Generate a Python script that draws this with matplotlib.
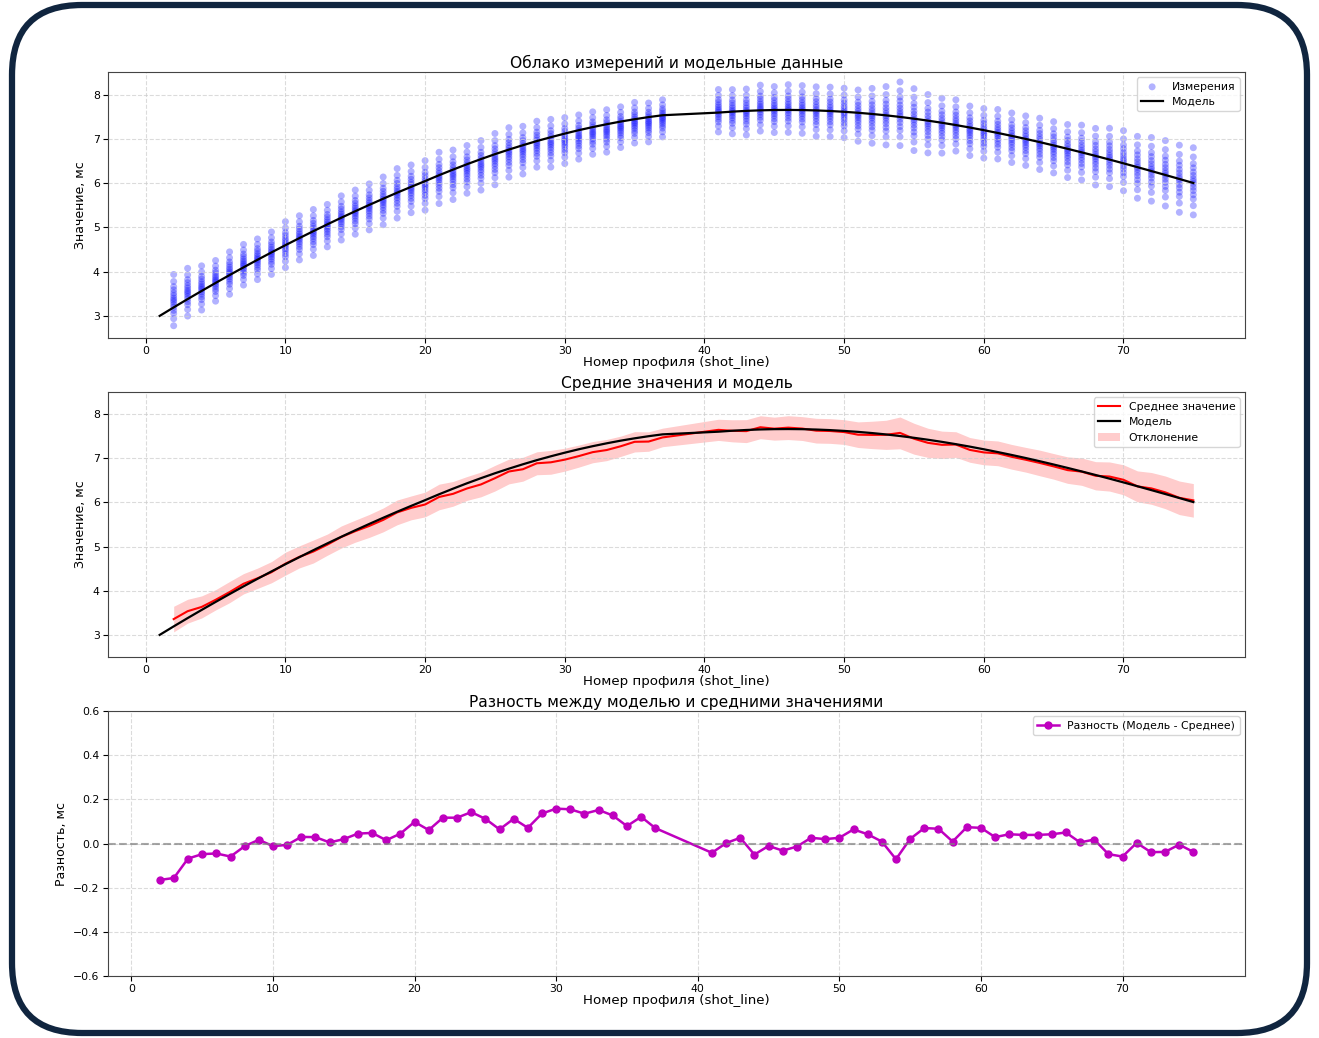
import matplotlib
matplotlib.use("Agg")
import matplotlib.pyplot as plt
from matplotlib.patches import FancyBboxPatch
import numpy as np

# ---------------- data ----------------
X_MODEL = list(range(1, 38)) + list(range(41, 76))
MODEL = [3.000, 3.192, 3.380, 3.564, 3.745, 3.923, 4.098, 4.269, 4.436, 4.600,
         4.760, 4.917, 5.071, 5.221, 5.368, 5.511, 5.651, 5.788, 5.920, 6.050,
         6.183, 6.310, 6.432, 6.548, 6.659, 6.763, 6.862, 6.956, 7.043, 7.125,
         7.202, 7.272, 7.337, 7.397, 7.450, 7.498, 7.540,
         7.600, 7.622, 7.639, 7.651, 7.658, 7.660, 7.657, 7.649, 7.636, 7.618,
         7.596, 7.569, 7.538, 7.502, 7.462, 7.418, 7.370, 7.318, 7.262, 7.202,
         7.139, 7.073, 7.004, 6.932, 6.857, 6.780, 6.701, 6.620, 6.537, 6.452,
         6.365, 6.277, 6.188, 6.098, 6.007]

X_MEAS = list(range(2, 38)) + list(range(41, 76))
# difference (model - mean)
DIFF = [-0.165, -0.156, -0.068, -0.048, -0.045, -0.059, -0.012, 0.017, -0.012, -0.006,
        0.030, 0.029, 0.005, 0.020, 0.045, 0.048, 0.015, 0.045, 0.098, 0.061,
        0.117, 0.117, 0.142, 0.112, 0.064, 0.112, 0.071, 0.136, 0.158, 0.155,
        0.135, 0.152, 0.127, 0.079, 0.121, 0.070,
        -0.042, 0.002, 0.026, -0.050, -0.011, -0.032, -0.014, 0.026, 0.020, 0.026,
        0.064, 0.042, 0.009, -0.071, 0.021, 0.070, 0.067, 0.009, 0.074, 0.071,
        0.029, 0.042, 0.039, 0.039, 0.042, 0.050, 0.005, 0.018, -0.048, -0.059,
        0.003, -0.039, -0.038, -0.005, -0.038]
# spread of measurements per profile (half-width of the band)
STD = [0.29, 0.27, 0.25, 0.23, 0.24, 0.23, 0.23, 0.24, 0.26, 0.25,
       0.26, 0.24, 0.25, 0.25, 0.26, 0.27, 0.28, 0.27, 0.28, 0.29,
       0.28, 0.27, 0.28, 0.29, 0.28, 0.27, 0.26, 0.27, 0.26, 0.25,
       0.24, 0.24, 0.23, 0.23, 0.22, 0.21,
       0.24, 0.25, 0.26, 0.26, 0.26, 0.27, 0.27, 0.28, 0.28, 0.28,
       0.29, 0.31, 0.33, 0.36, 0.35, 0.33, 0.31, 0.29, 0.28, 0.28,
       0.28, 0.28, 0.28, 0.29, 0.29, 0.30, 0.31, 0.32, 0.33, 0.34,
       0.35, 0.36, 0.37, 0.38, 0.38]
# typical standardized positions of the measurements within one profile column
OFFSETS = [-2.0, -1.45, -1.05, -0.8, -0.55, -0.35, -0.15, 0.0,
           0.15, 0.35, 0.55, 0.8, 1.05, 1.45, 2.0]

model_map = dict(zip(X_MODEL, MODEL))
x_meas = np.array(X_MEAS)
diff = np.array(DIFF)
std = np.array(STD)
mean = np.array([model_map[x] for x in X_MEAS]) - diff

sc_x = np.repeat(x_meas, len(OFFSETS))
sc_y = (mean[:, None] + std[:, None] * np.array(OFFSETS)[None, :]).ravel()

# ---------------- figure ----------------
fig = plt.figure(figsize=(13.19, 10.38), dpi=100)
bg = fig.add_axes([0, 0, 1, 1], zorder=-10)
bg.set_xlim(0, 1319)
bg.set_ylim(0, 1038)
bg.axis("off")
bg.add_patch(FancyBboxPatch((12, 5), 1295, 1028,
                            boxstyle="round,pad=0,rounding_size=70",
                            facecolor="white", edgecolor="#10253f", linewidth=4.5))

L, W = 0.0819, 0.862
ax1 = fig.add_axes([L, 0.6744, W, 0.2563])
ax2 = fig.add_axes([L, 0.3671, W, 0.2553])
ax3 = fig.add_axes([L, 0.0597, W, 0.2553])

TITLE_FS = 11.2
LABEL_FS = 9.6
TICK_FS = 7.8
LEG_FS = 7.8

for ax in (ax1, ax2, ax3):
    ax.grid(True, linestyle="--", color="#cccccc", alpha=0.7, linewidth=0.8)
    ax.tick_params(labelsize=TICK_FS, pad=2.5)
    ax.set_xlabel("Номер профиля (shot_line)", fontsize=LABEL_FS, labelpad=0)
    for sp in ax.spines.values():
        sp.set_color("#444444")

# top: cloud
ax1.scatter(sc_x, sc_y, s=25, color="blue", alpha=0.3, edgecolors="none", label="Измерения")
ax1.plot(X_MODEL, MODEL, color="black", linewidth=1.6, label="Модель")
ax1.set_ylim(2.5, 8.52)
ax1.set_title("Облако измерений и модельные данные", fontsize=TITLE_FS, pad=3)
ax1.set_ylabel("Значение, мс", fontsize=LABEL_FS - 0.6)
ax1.legend(loc="upper right", fontsize=LEG_FS)

# middle: means
ax2.plot(x_meas, mean, color="red", linewidth=1.5, label="Среднее значение")
ax2.plot(X_MODEL, MODEL, color="black", linewidth=1.6, label="Модель")
ax2.fill_between(x_meas, mean - std, mean + std, color="red", alpha=0.2, linewidth=0,
                 label="Отклонение")
ax2.set_ylim(2.5, 8.5)
ax2.set_title("Средние значения и модель", fontsize=TITLE_FS, pad=3)
ax2.set_ylabel("Значение, мс", fontsize=LABEL_FS - 0.6)
ax2.legend(loc="upper right", fontsize=LEG_FS)

# bottom: difference
ax3.plot(x_meas, diff, color="m", marker="o", markersize=5, linewidth=1.8,
         label="Разность (Модель - Среднее)")
ax3.axhline(0, color="gray", linestyle="--", linewidth=1.5, alpha=0.7)
ax3.set_ylim(-0.6, 0.6)
ax3.set_yticks([-0.6, -0.4, -0.2, 0.0, 0.2, 0.4, 0.6])
ax3.set_title("Разность между моделью и средними значениями", fontsize=TITLE_FS, pad=3)
ax3.set_ylabel("Разность, мс", fontsize=LABEL_FS - 0.6)
ax3.legend(loc="upper right", fontsize=LEG_FS)

fig.savefig("out.png", dpi=100)
